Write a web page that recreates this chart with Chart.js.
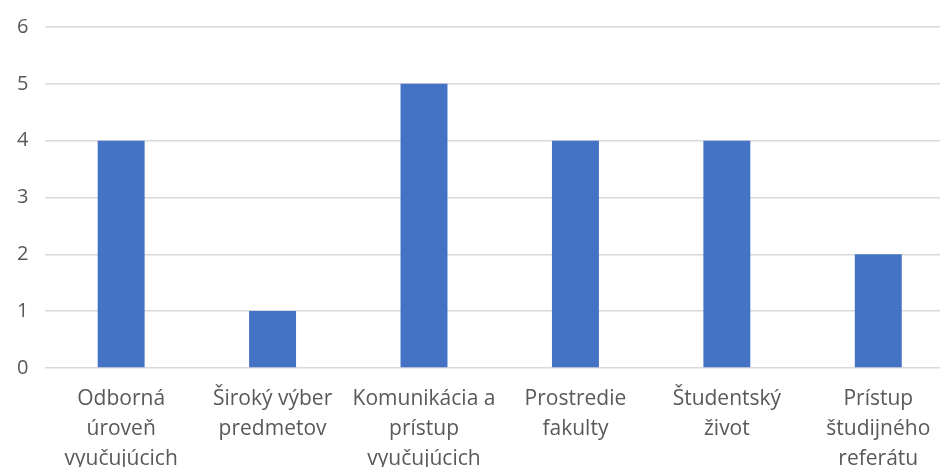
<!DOCTYPE html>
<html lang="sk">
<head>
    <meta charset="UTF-8">
    <title>Hodnotenie</title>
    <script src="https://cdn.jsdelivr.net/npm/chart.js"></script>
    <style>
        html, body {
            margin: 0;
            padding: 0;
            background: #ffffff;
            overflow: hidden;
            width: 940px;
            height: 467px;
        }
        #wrap {
            position: absolute;
            left: 0;
            top: 0;
        }
    </style>
</head>
<body>
    <div id="wrap">
        <canvas id="chart" width="954" height="490"></canvas>
    </div>
    <script>
        // Categories (wrapped like the original axis labels)
        const categories = [
            ["Odborná", "úroveň", "vyučujúcich"],
            ["Široký výber", "predmetov"],
            ["Komunikácia a", "prístup", "vyučujúcich"],
            ["Prostredie", "fakulty"],
            ["Študentský", "život"],
            ["Prístup", "študijného", "referátu"]
        ];
        const values = [4, 1, 5, 4, 4, 2];
        const yTicks = [0, 1, 2, 3, 4, 5, 6];

        const textColor = '#595959';
        const fontFamily = "'Open Sans', 'Noto Sans', sans-serif";

        new Chart(document.getElementById('chart').getContext('2d'), {
            type: 'bar',
            data: {
                labels: categories,
                datasets: [{
                    data: values,
                    backgroundColor: '#4472C4',
                    borderWidth: 0,
                    barPercentage: 0.31,
                    categoryPercentage: 1.0
                }]
            },
            options: {
                responsive: false,
                animation: false,
                layout: {
                    padding: { left: 0, top: 25, right: 0, bottom: 0 }
                },
                plugins: {
                    legend: { display: false },
                    tooltip: { enabled: false }
                },
                scales: {
                    x: {
                        grid: { display: false, drawTicks: false },
                        border: { display: false },
                        ticks: {
                            color: textColor,
                            font: { family: fontFamily, size: 21, lineHeight: 1.43 },
                            padding: 16,
                            maxRotation: 0,
                            autoSkip: false
                        }
                    },
                    y: {
                        min: yTicks[0],
                        max: yTicks[yTicks.length - 1],
                        afterBuildTicks: axis => {
                            axis.ticks = yTicks.map(v => ({ value: v }));
                        },
                        grid: {
                            color: '#d9d9d9',
                            lineWidth: 1.5,
                            drawTicks: false
                        },
                        border: { display: false },
                        ticks: {
                            color: textColor,
                            font: { family: fontFamily, size: 20, lineHeight: 1 },
                            padding: 17
                        }
                    }
                }
            }
        });
    </script>
</body>
</html>
